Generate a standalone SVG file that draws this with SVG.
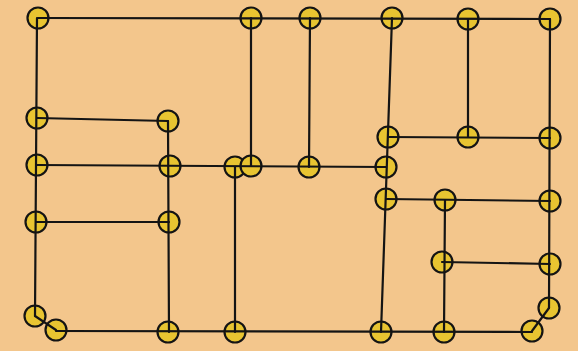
<svg xmlns="http://www.w3.org/2000/svg" width="578" height="351" viewBox="0 0 578 351">
<style>
.bg{fill:#F3C68C}
.e{stroke:#141414;stroke-width:2.2;fill:none;stroke-linecap:round}
.n{fill:#E8C431;stroke:#141414;stroke-width:2.2}
</style>
<rect class="bg" x="0" y="0" width="578" height="351"/>
<g id="n1"><circle class="n" cx="38" cy="18" r="10.5"/></g>
<g id="n2"><circle class="n" cx="251" cy="18" r="10.5"/></g>
<g id="n3"><circle class="n" cx="310" cy="18" r="10.5"/></g>
<g id="n4"><circle class="n" cx="392" cy="18" r="10.5"/></g>
<g id="n5"><circle class="n" cx="468" cy="19" r="10.5"/></g>
<g id="n6"><circle class="n" cx="550" cy="19" r="10.5"/></g>
<g id="n7"><circle class="n" cx="37" cy="118" r="10.5"/></g>
<g id="n8"><circle class="n" cx="168" cy="121" r="10.5"/></g>
<g id="n9"><circle class="n" cx="37" cy="165" r="10.5"/></g>
<g id="n10"><circle class="n" cx="170" cy="166" r="10.5"/></g>
<g id="n11"><circle class="n" cx="235" cy="167" r="10.5"/></g>
<g id="n12"><circle class="n" cx="251" cy="166" r="10.5"/></g>
<g id="n13"><circle class="n" cx="309" cy="167" r="10.5"/></g>
<g id="n14"><circle class="n" cx="386" cy="167" r="10.5"/></g>
<g id="n15"><circle class="n" cx="388" cy="137" r="10.5"/></g>
<g id="n16"><circle class="n" cx="468" cy="137" r="10.5"/></g>
<g id="n17"><circle class="n" cx="550" cy="138" r="10.5"/></g>
<g id="n18"><circle class="n" cx="36" cy="222" r="10.5"/></g>
<g id="n19"><circle class="n" cx="169" cy="222" r="10.5"/></g>
<g id="n20"><circle class="n" cx="386" cy="199" r="10.5"/></g>
<g id="n21"><circle class="n" cx="445" cy="200" r="10.5"/></g>
<g id="n22"><circle class="n" cx="550" cy="201" r="10.5"/></g>
<g id="n23"><circle class="n" cx="442" cy="262" r="10.5"/></g>
<g id="n24"><circle class="n" cx="550" cy="264" r="10.5"/></g>
<g id="n25"><circle class="n" cx="35" cy="316" r="10.5"/></g>
<g id="n26"><circle class="n" cx="56" cy="330" r="10.5"/></g>
<g id="n27"><circle class="n" cx="168" cy="332" r="10.5"/></g>
<g id="n28"><circle class="n" cx="235" cy="332" r="10.5"/></g>
<g id="n29"><circle class="n" cx="381" cy="332" r="10.5"/></g>
<g id="n30"><circle class="n" cx="444" cy="332" r="10.5"/></g>
<g id="n31"><circle class="n" cx="532" cy="331" r="10.5"/></g>
<g id="n32"><circle class="n" cx="549" cy="308" r="10.5"/></g>
<g id="connectors">
<line class="e" x1="38" y1="18" x2="550" y2="19"/>
<line class="e" x1="37" y1="18" x2="35" y2="316"/>
<line class="e" x1="37" y1="118" x2="168" y2="121"/>
<line class="e" x1="168" y1="121" x2="169" y2="332"/>
<line class="e" x1="37" y1="165" x2="386" y2="167"/>
<line class="e" x1="36" y1="222" x2="169" y2="222"/>
<line class="e" x1="251" y1="18" x2="251" y2="166"/>
<line class="e" x1="235" y1="167" x2="235" y2="332"/>
<line class="e" x1="310" y1="18" x2="309" y2="167"/>
<line class="e" x1="392" y1="18" x2="381" y2="332"/>
<line class="e" x1="388" y1="137" x2="550" y2="138"/>
<line class="e" x1="468" y1="19" x2="468" y2="137"/>
<line class="e" x1="550" y1="19" x2="549" y2="308"/>
<line class="e" x1="386" y1="199" x2="550" y2="201"/>
<line class="e" x1="445" y1="200" x2="444" y2="332"/>
<line class="e" x1="442" y1="262" x2="550" y2="264"/>
<line class="e" x1="56" y1="331" x2="532" y2="332"/>
<line class="e" x1="35" y1="316" x2="56" y2="330"/>
<line class="e" x1="549" y1="308" x2="532" y2="331"/>
</g>
</svg>
